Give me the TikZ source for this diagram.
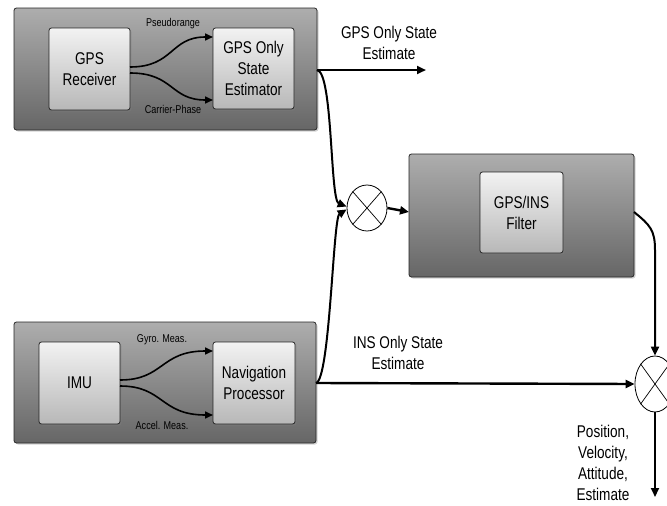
\documentclass[tikz,border=0pt]{standalone}
\usepackage{fontspec}
\setmainfont{Liberation Sans}[FakeStretch=0.8]
\usetikzlibrary{arrows.meta,shadows,shapes.geometric}
\begin{document}
\begin{tikzpicture}[x=1pt,y=-1pt,
  outerbox/.style={draw=black!85,line width=0.8pt,rounded corners=2.5pt,top color=black!32,bottom color=black!60,drop shadow={shadow xshift=1.5pt,shadow yshift=-1.5pt,opacity=0.35}},
  innerbox/.style={draw=black!85,line width=0.8pt,rounded corners=2.5pt,top color=black!5,bottom color=black!28,drop shadow={shadow xshift=1.5pt,shadow yshift=-1.5pt,opacity=0.35}},
  bigtxt/.style={font=\fontsize{17}{21}\selectfont,align=center,inner sep=0pt},
  smalltxt/.style={font=\fontsize{11.3}{13}\selectfont,inner sep=0pt},
  mixer/.style={draw,ellipse,fill=white,line width=0.8pt,minimum width=#1,inner sep=0pt},
  conn/.style={line width=2.4pt,-{Triangle[length=9pt,width=8pt]}},
  thin/.style={line width=1.6pt,-{Triangle[length=8pt,width=7pt]}}
]
\useasboundingbox (0,0) rectangle (667,506);
% top group
\draw[outerbox] (14,8) rectangle (317,130);
\coordinate (topR) at (317,70);
\node[innerbox,minimum width=81pt,minimum height=82pt] (gpsr) at (89.5,69) {};
\node[bigtxt] at (gpsr) {GPS\\Receiver};
\node[innerbox,minimum width=81pt,minimum height=81pt] (gpse) at (253.5,68.5) {};
\node[bigtxt] at (gpse) {GPS Only\\State\\Estimator};
\coordinate (gr1) at (130,67);
\coordinate (gr2) at (130,73);
\coordinate (ge1) at (213,37);
\coordinate (ge2) at (213,100);
\draw[thin] (gr1) .. controls (174,67) and (170,37) .. (ge1);
\draw[thin] (gr2) .. controls (174,73) and (170,100) .. (ge2);
\node[smalltxt] (pr) at (173,24) {Pseudorange};
\node[smalltxt] (cp) at (173,109) {Carrier-Phase};
% bottom group
\draw[outerbox] (14,322) rectangle (316,443);
\coordinate (botR) at (316,383);
\node[innerbox,minimum width=81pt,minimum height=82pt] (imu) at (79.5,383) {};
\node[bigtxt] at (imu) {IMU};
\node[innerbox,minimum width=82pt,minimum height=82pt] (nav) at (254,383) {};
\node[bigtxt] at (nav) {Navigation\\Processor};
\coordinate (im1) at (120,380);
\coordinate (im2) at (120,386);
\coordinate (nv1) at (213,351);
\coordinate (nv2) at (213,415);
\draw[thin] (im1) .. controls (164,380) and (160,351) .. (nv1);
\draw[thin] (im2) .. controls (164,386) and (160,415) .. (nv2);
\node[smalltxt] (gm) at (162,340) {Gyro. Meas.};
\node[smalltxt] (am) at (162,425) {Accel. Meas.};
% filter group
\draw[outerbox] (409,154) rectangle (634,277);
\node[innerbox,minimum width=83pt,minimum height=81pt] (filt) at (521.5,212.5) {};
\node[bigtxt] at (filt) {GPS/INS\\Filter};
\coordinate (filtL) at (409,212);
\coordinate (filtR) at (634,212);
% mixers
\node[mixer=40pt,minimum height=46pt] (m1) at (367,208) {};
\draw[line width=0.7pt] (m1.north west) -- (m1.south east) (m1.north east) -- (m1.south west);
\node[mixer=40pt,minimum height=56pt] (m2) at (655,384) {};
\draw[line width=0.7pt] (m2.north west) -- (m2.south east) (m2.north east) -- (m2.south west);
% connectors
\coordinate (gpsout) at (426,70);
\draw[conn] (topR) -- (gpsout);
\node[bigtxt] (gl) at (389,43) {GPS Only State\\Estimate};
\draw[conn,line width=2pt] (topR) .. controls (333,72) and (330,200) .. (m1.176);
\draw[conn,line width=2pt] (botR) .. controls (330,380) and (333,218) .. (m1.184);
\draw[conn] (m1.east) -- (filtL);
\draw[conn,line width=2pt] (filtR) .. controls (650,225) and (655,230) .. (655,250) -- (m2.north);
\draw[conn] (botR) -- (m2.west);
\node[bigtxt] (il) at (398,353) {INS Only State\\Estimate};
\coordinate (pout) at (655,497);
\draw[conn,line width=2pt] (m2.south) -- (pout);
\node[bigtxt,align=center,font=\fontsize{17}{21}\selectfont] (pl) at (603,463) {Position,\\Velocity,\\Attitude,\\Estimate};
\end{tikzpicture}
\end{document}
